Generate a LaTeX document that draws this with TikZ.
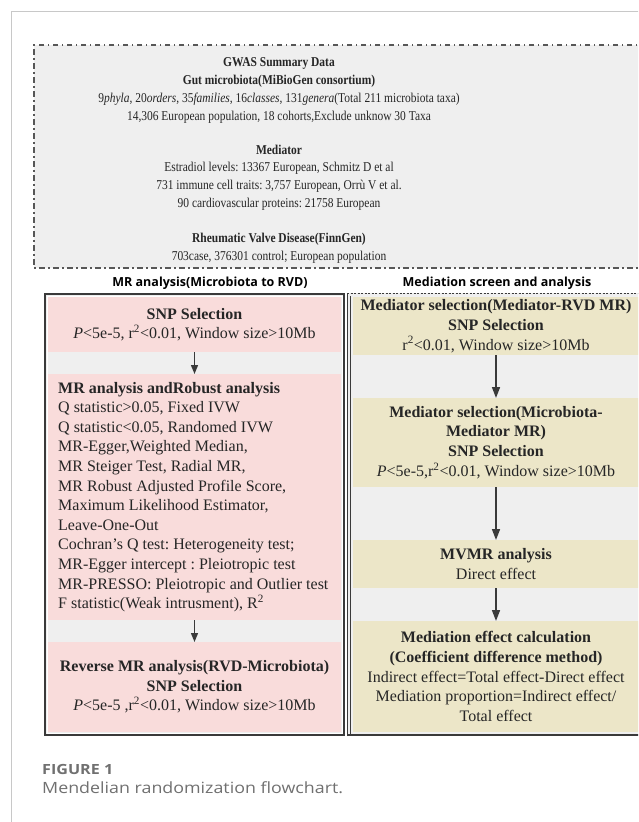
\documentclass[tikz,border=0pt]{standalone}
\usepackage{fontspec}
\setmainfont{Liberation Serif}
\newfontfamily\topfont[FakeStretch=0.85]{Liberation Serif}
\newfontfamily\hdrfont{Open Sans}
\newfontfamily\capfont[FakeStretch=1.15]{Open Sans}
\usetikzlibrary{arrows.meta}
\definecolor{pagegray}{HTML}{C8C8C8}
\definecolor{panelgray}{HTML}{EFEFEF}
\definecolor{pinkbox}{HTML}{F9DCDB}
\definecolor{tanbox}{HTML}{ECE6C8}
\definecolor{darkline}{HTML}{3A3A3A}
\definecolor{txt}{HTML}{262626}
\definecolor{capgray}{HTML}{707070}
\tikzset{
  pinkbx/.style={fill=pinkbox, draw=none, inner sep=0pt, outer sep=0pt, minimum width=293pt, text=txt, font=\fontsize{16}{19.6}\selectfont, align=center},
  tanbx/.style={fill=tanbox, draw=none, inner sep=0pt, outer sep=0pt, minimum width=286pt, text=txt, font=\fontsize{16}{19.7}\selectfont, align=center},
  toptext/.style={text=txt, inner sep=0pt, align=center, font=\topfont\fontsize{13.5}{17.7}\selectfont},
  hdr/.style={text=black, inner sep=0pt, font=\hdrfont\bfseries\fontsize{12.5}{14}\selectfont},
  arr/.style={draw=darkline, line width=1.3pt, -{Triangle[length=9pt,width=7pt]}},
  arrb/.style={draw=darkline, line width=1.6pt, -{Triangle[length=11pt,width=8pt]}},
}
\begin{document}
\frenchspacing
\begin{tikzpicture}[x=1pt,y=-1pt]
\useasboundingbox (0,0) rectangle (638,822);
\clip (0,0) rectangle (638,822);
\fill[white] (0,0) rectangle (638,822);
% page frame
\draw[pagegray, line width=1pt] (11,830) -- (11,11) -- (650,11);
% top data box
\fill[panelgray] (34,45) rectangle (660,268);
\draw[darkline!85, line width=1.2pt, dash pattern=on 5.5pt off 3.5pt on 1.5pt off 3.5pt] (660,45) -- (34,45) -- (34,268) -- (660,268);
\node[toptext] (t1) at (279,90.5) {{\bfseries GWAS Summary Data}\\
{\bfseries Gut microbiota(MiBioGen consortium)}\\
9\textit{phyla}, 20\textit{orders}, 35\textit{families}, 16\textit{classes}, 131\textit{genera}(Total 211 microbiota taxa)\\
14,306 European population, 18 cohorts,Exclude unknow 30 Taxa};
\node[toptext] (t2) at (279,177.5) {{\bfseries Mediator}\\
Estradiol levels: 13367 European, Schmitz D et al\\
731 immune cell traits: 3,757 European, Orrù V et al.\\
90 cardiovascular proteins: 21758 European};
\node[toptext] (t3) at (279,248) {{\bfseries Rheumatic Valve Disease(FinnGen)}\\
703case, 376301 control; European population};
% headers
\node[hdr] (h1) at (210,283) {MR analysis(Microbiota to RVD)};
\node[hdr] (h2) at (497,283) {Mediation screen and analysis};
% left panel
\fill[panelgray] (44,293) rectangle (345,736);
\draw[white, line width=1pt] (47,296) rectangle (342,733);
\draw[darkline, line width=2pt] (45,294) rectangle (344,735);
\node[pinkbx, anchor=north west, minimum height=55pt] (b1) at (48,297) {{\bfseries SNP Selection}\\
\textit{P}<5e-5, r\textsuperscript{2}<0.01, Window size>10Mb};
\node[pinkbx, anchor=north west, minimum height=246pt] (b2) at (48,374) {};
\node[anchor=west, inner sep=0pt, align=left, text=txt, font=\fontsize{16}{19.6}\selectfont] (b2t) at (58,497) {{\bfseries MR analysis andRobust analysis}\\
Q statistic>0.05, Fixed IVW\\
Q statistic<0.05, Randomed IVW\\
MR-Egger,Weighted Median,\\
MR Steiger Test, Radial MR,\\
MR Robust Adjusted Profile Score,\\
Maximum Likelihood Estimator,\\
Leave-One-Out\\
Cochran's Q test: Heterogeneity test;\\
MR-Egger intercept : Pleiotropic test\\
MR-PRESSO: Pleiotropic and Outlier test\\
F statistic(Weak intrusment), R\textsuperscript{2}};
\node[pinkbx, anchor=north west, minimum height=90pt] (b3) at (48,642) {{\bfseries Reverse MR analysis(RVD-Microbiota)}\\
{\bfseries SNP Selection}\\
\textit{P}<5e-5 ,r\textsuperscript{2}<0.01, Window size>10Mb};
\draw[arr] (b1.south) -- (b2.north);
\draw[arr] (b2.south) -- (b3.north);
% right panel
\fill[panelgray] (347,293) rectangle (650,736);
\node[tanbx, anchor=north west, minimum height=58pt] (r1) at (353,297) {{\bfseries Mediator selection(Mediator-RVD MR)}\\
{\bfseries SNP Selection}\\
r\textsuperscript{2}<0.01, Window size>10Mb};
\node[tanbx, anchor=north west, minimum height=89pt] (r2) at (353,398) {{\bfseries Mediator selection(Microbiota-}\\
{\bfseries Mediator MR)}\\
{\bfseries SNP Selection}\\
\textit{P}<5e-5,r\textsuperscript{2}<0.01, Window size>10Mb};
\node[tanbx, anchor=north west, minimum height=48pt] (r3) at (353,540) {{\bfseries MVMR analysis}\\
Direct effect};
\node[tanbx, anchor=north west, minimum height=111pt] (r4) at (353,621) {{\bfseries Mediation effect calculation}\\
{\bfseries (Coefficient difference method)}\\
Indirect effect=Total effect-Direct effect\\
Mediation proportion=Indirect effect/\\
Total effect};
\draw[arrb] (r1.south) -- (r2.north);
\draw[arrb] (r2.south) -- (r3.north);
\draw[arrb] (r3.south) -- (r4.north);
\draw[darkline, line width=1.4pt] (347.7,736) -- (347.7,293.5);
\draw[darkline, line width=0.7pt] (350.7,734) -- (350.7,296);
\draw[darkline, line width=1.6pt] (347,735.2) -- (650,735.2);
\draw[darkline, line width=0.8pt, dash pattern=on 2pt off 1.5pt] (347,293.6) -- (650,293.6);
% caption
\node[anchor=west, inner sep=0pt, text=capgray, font=\capfont\bfseries\fontsize{14}{16}\selectfont] (c1) at (42,769) {FIGURE 1};
\node[anchor=west, inner sep=0pt, text=capgray, font=\capfont\fontsize{15.5}{18}\selectfont] (c2) at (42,788) {Mendelian randomization flowchart.};
\end{tikzpicture}
\end{document}
